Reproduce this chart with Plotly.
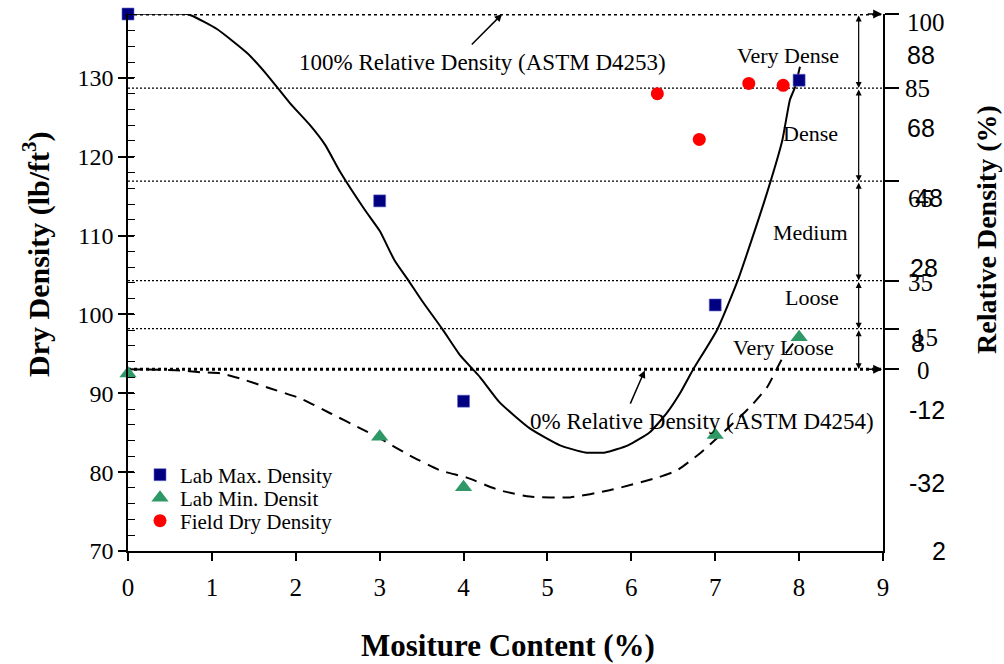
import plotly.graph_objects as go

# ---------------- data ----------------
max_x = [0, 3, 4, 7, 8]
max_y = [138.1, 114.4, 89.0, 101.2, 129.7]

min_x = [0, 3, 4, 7, 8]
min_y = [92.5, 84.5, 78.1, 84.7, 97.1]

field_x = [6.31, 6.81, 7.40, 7.81]
field_y = [128.0, 122.2, 129.3, 129.05]

# fitted curve through lab max densities (solid)
fitmax_x = [0.0, 0.70, 0.77, 1.06, 1.42, 1.66, 1.93, 2.17, 2.35, 2.53, 2.82, 3.00, 3.18, 3.34,
            3.50, 3.75, 3.96, 4.20, 4.43, 4.79, 5.15, 5.45, 5.69, 5.96, 6.22, 6.43, 6.58, 6.73,
            7.02, 7.27, 7.59, 7.80, 7.89, 7.95, 8.01]
fitmax_y = [138.1, 138.1, 137.85, 136.2, 133.15, 130.36, 126.8, 124.0, 121.5, 118.05, 113.3,
            110.6, 106.8, 104.35, 101.8, 98.1, 94.8, 92.0, 88.85, 85.55, 83.4, 82.5, 82.5, 83.4,
            85.05, 87.6, 90.0, 92.9, 98.0, 104.35, 114.5, 122.1, 127.2, 128.8, 131.4]

# fitted curve through lab min densities (dashed)
fitmin_x = [0.0, 0.62, 0.86, 1.10, 1.33, 1.69, 2.05, 2.41, 2.77, 3.00, 3.36, 3.72, 4.04, 4.43,
            4.79, 5.27, 5.74, 6.31, 6.54, 6.82, 7.06, 7.41, 7.62, 7.81, 8.01]
fitmin_y = [93.05, 92.9, 92.67, 92.54, 91.9, 90.64, 89.37, 87.47, 85.56, 84.3, 82.1, 80.23,
            79.3, 77.7, 76.9, 76.8, 77.7, 79.3, 80.2, 82.4, 84.7, 88.2, 90.8, 94.6, 97.4]

# relative-density class boundaries (in dry density units)
level_rd = ["100", "85", "65", "35", "15", "0"]
level_y = [138.1, 128.7, 116.9, 104.3, 98.2, 93.05]
class_names = ["Very Dense", "Dense", "Medium", "Loose", "Very Loose"]
class_x = [7.87, 8.13, 8.14, 8.15, 7.81]
class_y = [132.9, 123.0, 110.43, 102.19, 95.84]

# right-hand axis labels (two overlaid label sets)
rs_text = ["100", "85", "65", "35", "15", "0"]
rs_y = [137.08, 128.71, 114.75, 104.1, 97.1, 92.92]
rs_px = [905, 903, 906, 906, 911, 915]
ra_text = ["88", "68", "48", "28", "8", "-12", "-32", "2"]
ra_y = [132.9, 123.63, 114.75, 105.87, 96.35, 87.85, 78.58, 70.0]
ra_px = [905, 905, 913, 908, 909, 907, 907, 930]

x_ticks = list(range(0, 10))
y_ticks = [70, 80, 90, 100, 110, 120, 130]

# ---------------- layout constants ----------------
W, H = 1004, 664
L, R, T, B = 128, 121, 14, 113
PW = W - L - R
PH = H - T - B
SERIF = "Liberation Serif, Times New Roman, serif"
SANS = "Liberation Sans, Arial, sans-serif"
Y0, Y1 = 70, 138.1


def px_x(px):
    return (px - L) / PW


def px_y(py):
    return (H - B - py) / PH


fig = go.Figure()

# level lines
for i, yv in enumerate(level_y):
    thick = i in (0, len(level_y) - 1)
    fig.add_trace(go.Scatter(
        x=[0, 9], y=[yv, yv], mode="lines", showlegend=False, hoverinfo="skip",
        line=dict(color="black", width=3 if thick else 1.3,
                  dash="3px,3px" if thick else "2px,2px")))

# fitted curves
fig.add_trace(go.Scatter(x=fitmax_x, y=fitmax_y, mode="lines", showlegend=False,
                         line=dict(color="black", width=2, shape="spline", smoothing=0.5),
                         hoverinfo="skip"))
fig.add_trace(go.Scatter(x=fitmin_x, y=fitmin_y, mode="lines", showlegend=False,
                         line=dict(color="black", width=2, dash="12px,8px", shape="spline",
                                   smoothing=0.5),
                         hoverinfo="skip"))

# markers
fig.add_trace(go.Scatter(x=max_x, y=max_y, mode="markers", name="Lab Max. Density",
                         cliponaxis=False, legend="legend",
                         marker=dict(symbol="square", size=12, color="#000080",
                                     line=dict(width=0.6, color="#6666cc"))))
fig.add_trace(go.Scatter(x=min_x, y=min_y, mode="markers", name="Lab Min. Densit",
                         cliponaxis=False, legend="legend2",
                         marker=dict(symbol="triangle-up", size=15, color="#2e9966",
                                     line=dict(width=0))))
fig.add_trace(go.Scatter(x=field_x, y=field_y, mode="markers", name="Field Dry Density",
                         cliponaxis=False, legend="legend3",
                         marker=dict(symbol="circle", size=13, color="#ff0000",
                                     line=dict(width=0))))

ann = []
# vertical double arrows between class boundaries
for a, b in zip(level_y[:-1], level_y[1:]):
    ann.append(dict(x=8.71, y=b, ax=8.71, ay=a, xref="x", yref="y", axref="x", ayref="y",
                    text="", showarrow=True, arrowhead=2, arrowside="end+start",
                    arrowsize=1, arrowwidth=1.2, arrowcolor="black"))
# arrowheads at the right end of the 100% and 0% lines
for yv in (level_y[0], level_y[-1]):
    ann.append(dict(x=8.99, y=yv, ax=8.8, ay=yv, xref="x", yref="y", axref="x", ayref="y",
                    text="", showarrow=True, arrowhead=2, arrowsize=1.2, arrowwidth=1.5,
                    arrowcolor="black"))
# pointer arrows for the labels
ann.append(dict(x=4.46, y=138.1, ax=4.08, ay=134.04, xref="x", yref="y", axref="x", ayref="y",
                text="", showarrow=True, arrowhead=2, arrowsize=1, arrowwidth=1.5,
                arrowcolor="black"))
ann.append(dict(x=6.16, y=92.9, ax=5.98, ay=88.5, xref="x", yref="y", axref="x", ayref="y",
                text="", showarrow=True, arrowhead=2, arrowsize=1, arrowwidth=1.5,
                arrowcolor="black"))
ann.append(dict(x=4.22, y=132.0, xref="x", yref="y", showarrow=False,
                xanchor="center", yanchor="middle",
                text="100% Relative Density (ASTM D4253)",
                font=dict(family=SERIF, size=23, color="black")))
ann.append(dict(x=6.84, y=86.45, xref="x", yref="y", showarrow=False,
                xanchor="center", yanchor="middle",
                text="0% Relative Density (ASTM D4254)",
                font=dict(family=SERIF, size=23, color="black")))
for t, xx, yy in zip(class_names, class_x, class_y):
    ann.append(dict(x=xx, y=yy, xref="x", yref="y", showarrow=False, text=t,
                    xanchor="center", yanchor="middle",
                    font=dict(family=SERIF, size=22, color="black")))
# right-hand labels
for t, yy, px in zip(rs_text, rs_y, rs_px):
    ann.append(dict(x=px_x(px), y=yy, xref="paper", yref="y", xanchor="left",
                    yanchor="middle", showarrow=False, text=t,
                    font=dict(family=SERIF, size=25, color="black")))
for t, yy, px in zip(ra_text, ra_y, ra_px):
    ann.append(dict(x=px_x(px), y=yy, xref="paper", yref="y", xanchor="left",
                    yanchor="middle", showarrow=False, text=t,
                    font=dict(family=SANS, size=25, color="black")))
# axis titles
ann.append(dict(x=px_x(36), y=px_y(255), xref="paper", yref="paper",
                xanchor="center", yanchor="middle",
                text="<b>Dry Density (lb/ft<sup>3</sup>)</b>", textangle=-90, showarrow=False,
                font=dict(family=SERIF, size=30, color="black")))
ann.append(dict(x=px_x(986), y=px_y(230), xref="paper", yref="paper",
                xanchor="center", yanchor="middle",
                text="<b>Relative Density (%)</b>", textangle=-90, showarrow=False,
                font=dict(family=SERIF, size=28, color="black")))
ann.append(dict(x=px_x(508), y=px_y(645), xref="paper", yref="paper",
                xanchor="center", yanchor="middle",
                text="<b>Mositure Content (%)</b>", showarrow=False,
                font=dict(family=SERIF, size=31, color="black")))


def leg(py):
    return dict(x=px_x(140), y=px_y(py), xanchor="left", yanchor="middle",
                bgcolor="rgba(0,0,0,0)", font=dict(family=SERIF, size=21, color="black"),
                itemwidth=30)


fig.update_layout(
    width=W, height=H, margin=dict(l=L, r=R, t=T, b=B),
    paper_bgcolor="white", plot_bgcolor="white",
    showlegend=True,
    legend=leg(475), legend2=leg(498), legend3=leg(521),
    annotations=ann,
    xaxis=dict(range=[0, 9], tickvals=x_ticks, ticks="outside", ticklen=8, tickwidth=1.5,
               tickcolor="black", showline=True, linecolor="black", linewidth=1.5,
               showgrid=False, zeroline=False, ticklabelstandoff=5,
               tickfont=dict(family=SERIF, size=25, color="black")),
    yaxis=dict(range=[Y0, Y1], tickvals=y_ticks, ticks="outside", ticklen=8, tickwidth=1.5,
               tickcolor="black", showline=True, linecolor="black", linewidth=1.5,
               showgrid=False, zeroline=False,
               minor=dict(dtick=2, tick0=70, ticks="inside", ticklen=7, tickwidth=1.2,
                          tickcolor="black", showgrid=False),
               tickfont=dict(family=SERIF, size=24, color="black")),
    yaxis3=dict(range=[Y0, Y1], overlaying="y", anchor="x", side="left", tickvals=y_ticks,
                ticks="inside", ticklen=6, tickwidth=1.5, tickcolor="black",
                showticklabels=False, showline=False, showgrid=False, zeroline=False),
    yaxis2=dict(range=[Y0, Y1], overlaying="y", anchor="x", side="right", tickvals=level_y,
                ticktext=["" for _ in level_y], ticks="outside", ticklen=14, tickwidth=1.5,
                tickcolor="black", showline=True, linecolor="black", linewidth=1.5,
                showgrid=False, zeroline=False),
)
# invisible helper traces so the overlay axes render
fig.add_trace(go.Scatter(x=[0], y=[Y0], yaxis="y2", mode="markers", showlegend=False,
                         marker=dict(opacity=0), hoverinfo="skip"))
fig.add_trace(go.Scatter(x=[0], y=[Y0], yaxis="y3", mode="markers", showlegend=False,
                         marker=dict(opacity=0), hoverinfo="skip"))

fig.write_html("out.html")
